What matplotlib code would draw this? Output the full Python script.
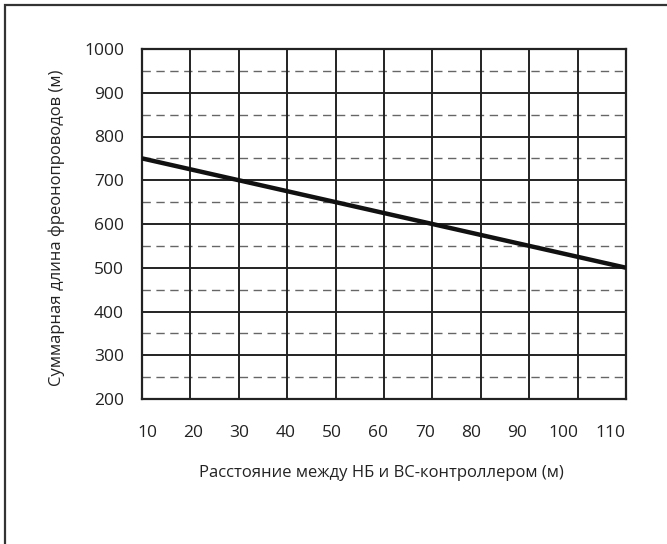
import numpy as np
import matplotlib.pyplot as plt
from matplotlib.patches import Rectangle

plt.rcParams['font.family'] = ['Open Sans', 'DejaVu Sans']

# data
dist = [10, 110]            # distance between outdoor unit and BC controller (m)
total_len = [750, 500]      # total refrigerant piping length (m)
x_ticks = [10, 20, 30, 40, 50, 60, 70, 80, 90, 100, 110]
y_ticks = [200, 300, 400, 500, 600, 700, 800, 900, 1000]
y_half = [250, 350, 450, 550, 650, 750, 850, 950]

fig = plt.figure(figsize=(6.67, 5.44), dpi=100)
ax = fig.add_axes([142/667, 1-399/544, (626-142)/667, (399-49)/544])

# outer frame (only top and left edges fall inside the picture)
fig.patches.append(Rectangle((5/667, -0.1), 1.2, 1.1-5/544,
                             transform=fig.transFigure, fill=False,
                             edgecolor='#333333', linewidth=1.6))

for yv in y_half:
    ax.axhline(yv, color='#666666', lw=1.0, ls=(0, (6, 4)), zorder=1)
for yv in y_ticks:
    ax.axhline(yv, color='#222222', lw=1.4, zorder=2)
for xv in x_ticks:
    ax.axvline(xv, color='#222222', lw=1.4, zorder=2)

ax.plot(dist, total_len, color='#111111', lw=3.2, solid_capstyle='butt', zorder=3)

ax.set_xlim(10, 110)
ax.set_ylim(200, 1000)
ax.set_xticks(x_ticks)
ax.set_yticks(y_ticks)
ax.tick_params(length=0, labelsize=12.5, colors='#222222')
ax.tick_params(axis='x', labelbottom=False)
ax.tick_params(axis='y', pad=13)
for s in ax.spines.values():
    s.set_linewidth(1.6)
    s.set_color('#222222')

# the printed x labels sit slightly compressed relative to the grid
ax2 = ax.twiny()
ax2.set_xlim(8.92, 113.46)
ax2.set_xticks(x_ticks)
ax2.xaxis.set_ticks_position('bottom')
ax2.xaxis.set_label_position('bottom')
ax2.tick_params(length=0, labelsize=12.5, colors='#222222', pad=19)
for s in ax2.spines.values():
    s.set_visible(False)

fig.text(57/667, 1-228/544, 'Суммарная длина фреонопроводов (м)', rotation=90,
         ha='center', va='center', fontsize=12, color='#222222')
fig.text(381/667, 1-473/544, 'Расстояние между НБ и ВС-контроллером (м)',
         ha='center', va='center', fontsize=12, color='#222222')

fig.savefig('out.png', dpi=100)
